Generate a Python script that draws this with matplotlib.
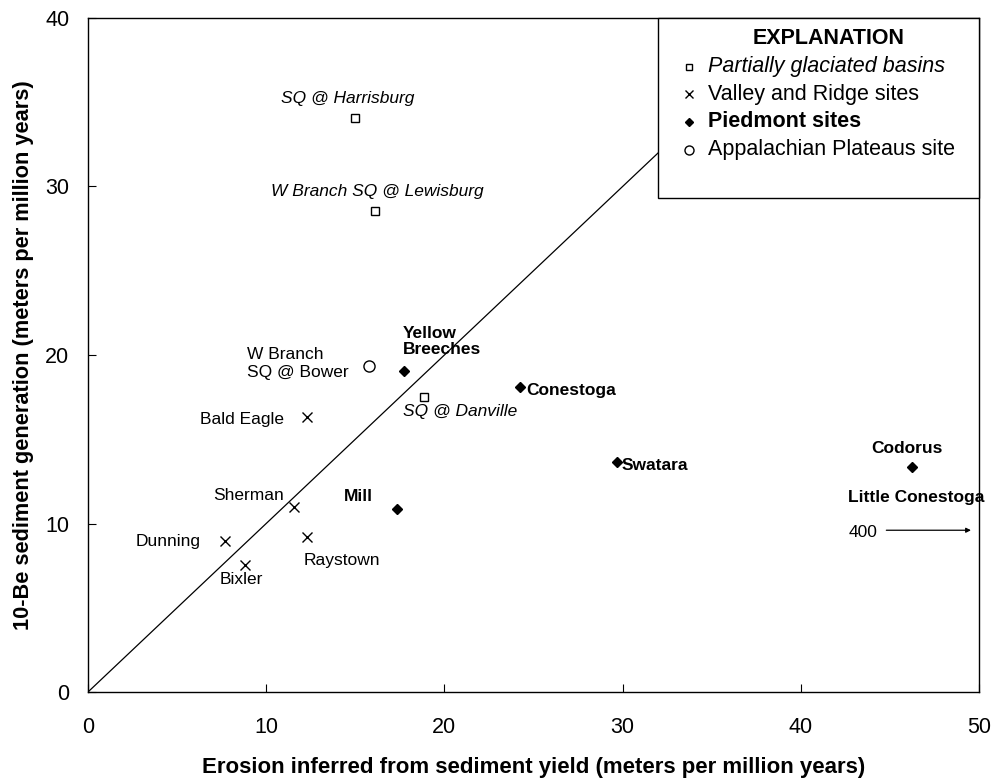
import matplotlib
matplotlib.use("Agg")
import matplotlib.pyplot as plt
from matplotlib.patches import Rectangle
from matplotlib.lines import Line2D

plt.rcParams['font.family'] = ['Liberation Sans', 'DejaVu Sans']

# ---- data ----
glac_names = ["SQ @ Harrisburg", "W Branch SQ @ Lewisburg", "SQ @ Danville"]
glac_x = [14.98, 16.1, 18.86]
glac_y = [34.08, 28.56, 17.53]

vr_names = ["Bald Eagle", "Sherman", "Raystown", "Dunning", "Bixler"]
vr_x = [12.27, 11.56, 12.29, 7.69, 8.83]
vr_y = [16.3, 10.98, 9.22, 8.98, 7.54]

pied_names = ["Yellow\nBreeches", "Conestoga", "Swatara", "Codorus", "Mill"]
pied_x = [17.75, 24.24, 29.7, 46.26, 17.32]
pied_y = [19.07, 18.08, 13.63, 13.37, 10.88]

plat_names = ["W Branch\nSQ @ Bower"]
plat_x = [15.77]
plat_y = [19.35]

offscale_name = "Little Conestoga"
offscale_value = "400"

x_ticks = [0, 10, 20, 30, 40, 50]
y_ticks = [0, 10, 20, 30, 40]

# ---- layout: label anchor positions (data coords) ----
glac_lab = [(14.56, 35.2, 'center'), (16.25, 29.7, 'center'), (17.7, 16.63, 'left')]
vr_lab = [(6.28, 16.2, 'left'), (7.03, 11.69, 'left'), (12.08, 7.83, 'left'),
          (6.34, 8.96, 'right'), (7.41, 6.69, 'left')]
pied_lab = [(17.65, 20.8, 'left'), (24.58, 17.88, 'left'), (29.94, 13.43, 'left'),
            (45.94, 14.46, 'center'), (16.0, 11.59, 'right')]
plat_lab = [(8.9, 19.5, 'left')]

fig = plt.figure(figsize=(9.95, 7.8), dpi=100)
ax = fig.add_axes([88/995, 88/780, 891/995, 674/780])
ax.set_xlim(0, 50)
ax.set_ylim(0, 40)

# 1:1 line
ax.plot([0, 50], [0, 50], color='black', lw=0.9, zorder=1)

ms_kw = dict(linestyle='none', zorder=3)
ax.plot(glac_x, glac_y, marker='s', ms=5.5, mfc='white', mec='black', mew=1.0, **ms_kw)
ax.plot(vr_x, vr_y, marker='x', ms=7, color='black', mew=1.0, **ms_kw)
ax.plot(pied_x, pied_y, marker='D', ms=5, color='black', **ms_kw)
ax.plot(plat_x, plat_y, marker='o', ms=8, mfc='white', mec='black', mew=1.0, **ms_kw)

fs = 12.5
for n, (x, y, ha) in zip(glac_names, glac_lab):
    ax.text(x, y, n, ha=ha, va='center', fontsize=fs, style='italic', zorder=4)
for n, (x, y, ha) in zip(vr_names, vr_lab):
    ax.text(x, y, n, ha=ha, va='center', fontsize=fs, zorder=4)
for n, (x, y, ha) in zip(pied_names, pied_lab):
    ax.text(x, y, n, ha=ha, va='center', fontsize=fs, fontweight='bold', zorder=4,
            linespacing=1.15)
for n, (x, y, ha) in zip(plat_names, plat_lab):
    ax.text(x, y, n, ha=ha, va='center', fontsize=fs, zorder=4, linespacing=1.3)

ax.text(42.65, 11.53, offscale_name, ha='left', va='center', fontsize=fs, fontweight='bold')
ax.text(42.67, 9.45, offscale_value, ha='left', va='center', fontsize=fs)
ax.annotate('', xy=(49.55, 9.6), xytext=(44.8, 9.6),
            arrowprops=dict(arrowstyle='-|>', color='black', lw=0.9,
                            mutation_scale=7, shrinkA=0, shrinkB=0))

# legend box (manual)
ax.add_patch(Rectangle((0.6397, 0.733), 1 - 0.6397, 0.267, transform=ax.transAxes,
                       facecolor='white', edgecolor='black', lw=1.0, zorder=5,
                       clip_on=False))
def axx(px):
    return (px - 88) / 891
def axy(py):
    return (692 - py) / 674
ax.text(axx(828.5), axy(39), "EXPLANATION", transform=ax.transAxes, ha='center',
        va='center', fontsize=15.5, fontweight='bold', zorder=6)
leg_items = [
    ('s', dict(mfc='white', mec='black', ms=5, mew=1.0), "Partially glaciated basins",
     dict(style='italic')),
    ('x', dict(color='black', ms=6, mew=1.0), "Valley and Ridge sites", dict()),
    ('D', dict(color='black', ms=4.5), "Piedmont sites", dict(fontweight='bold')),
    ('o', dict(mfc='white', mec='black', ms=6.5, mew=1.0), "Appalachian Plateaus site", dict()),
]
leg_y = [66.7, 94.5, 121.7, 150]
for (mk, mkw, txt, tkw), py in zip(leg_items, leg_y):
    ax.add_line(Line2D([axx(689)], [axy(py)], marker=mk, linestyle='none',
                       transform=ax.transAxes, zorder=6, clip_on=False, **mkw))
    ax.text(axx(708), axy(py), txt, transform=ax.transAxes, ha='left', va='center',
            fontsize=15.5, zorder=6, **tkw)

ax.set_xticks(x_ticks)
ax.set_yticks(y_ticks)
ax.tick_params(direction='in', length=6, width=0.8, labelsize=15.5)
ax.tick_params(axis='x', pad=18)
ax.tick_params(axis='y', pad=13.5)
for s in ax.spines.values():
    s.set_linewidth(1.0)

ax.set_xlabel("Erosion inferred from sediment yield (meters per million years)",
              fontsize=16, fontweight='bold', labelpad=13.5)
ax.set_ylabel("10-Be sediment generation (meters per million years)",
              fontsize=15.7, fontweight='bold', labelpad=8)

fig.savefig("out.png", dpi=100)
